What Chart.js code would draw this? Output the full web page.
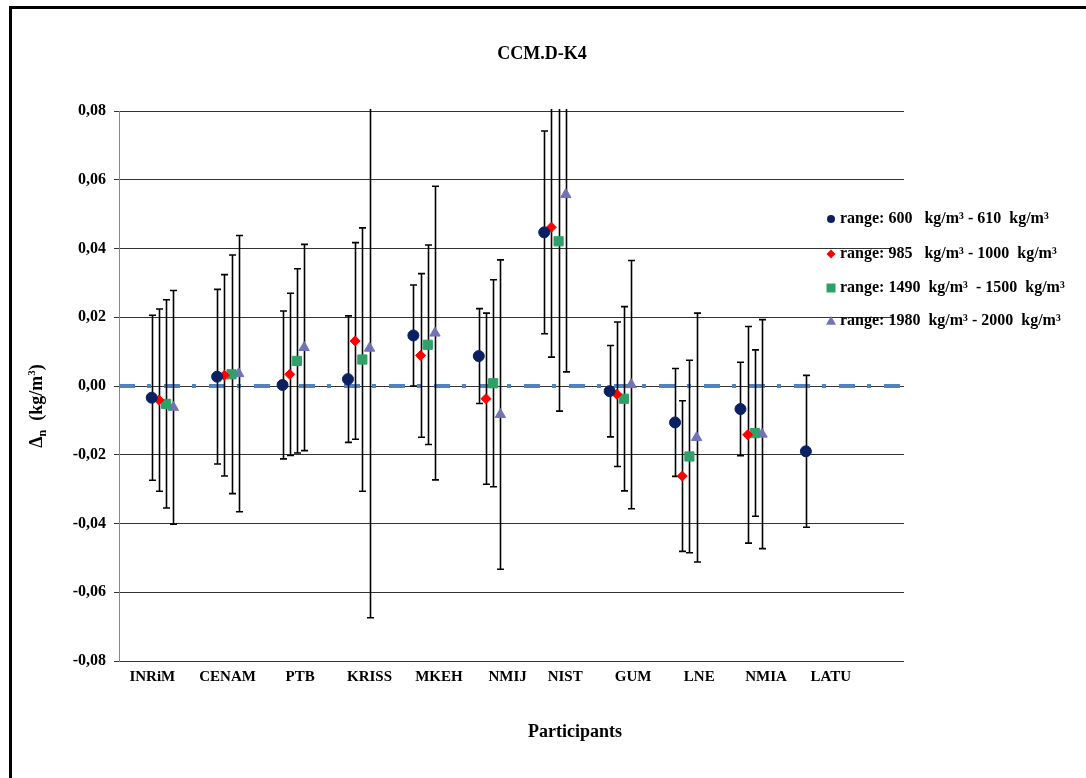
<!DOCTYPE html>
<html><head><meta charset="utf-8">
<script src="https://cdn.jsdelivr.net/npm/chart.js@4.4.1/dist/chart.umd.min.js"></script>
<style>html,body{margin:0;padding:0;background:#fff}canvas{display:block}</style>
</head><body>
<canvas id="c" width="1086" height="778"></canvas>
<script>
// ---------------- data ----------------
const participants = ['INRiM','CENAM','PTB','KRISS','MKEH','NMIJ','NIST','GUM','LNE','NMIA','LATU'];
const yTickValues = [-0.08,-0.06,-0.04,-0.02,0,0.02,0.04,0.06,0.08];
const legendLabels = [
  'range: 600   kg/m\u00B3 - 610  kg/m\u00B3',
  'range: 985   kg/m\u00B3 - 1000  kg/m\u00B3',
  'range: 1490  kg/m\u00B3  - 1500  kg/m\u00B3',
  'range: 1980  kg/m\u00B3 - 2000  kg/m\u00B3'
];
// deviations (kg/m3) and expanded uncertainties (kg/m3)
const range600   = [-0.0034, 0.0027, 0.0003, 0.0020, 0.0147, 0.0087, 0.0447, -0.0015, -0.0106, -0.0067, -0.0190];
const range600U  = [ 0.0240, 0.0254, 0.0215, 0.0184, 0.0147, 0.0138, 0.0295,  0.0133,  0.0157,  0.0136,  0.0221];
const range985   = [-0.0041, 0.0031, 0.0034, 0.0131, 0.0089, -0.0037, 0.0462, -0.0024, -0.0262, -0.0142, null];
const range985U  = [ 0.0265, 0.0293, 0.0236, 0.0286, 0.0238,  0.0249, 0.0378,  0.0210,  0.0219,  0.0315, null];
const range1490  = [-0.0052, 0.0034, 0.0073, 0.0077, 0.0120, 0.0008, 0.0421, -0.0037, -0.0205, -0.0137, null];
const range1490U = [ 0.0303, 0.0347, 0.0268, 0.0383, 0.0290, 0.0301, 0.0494,  0.0268,  0.0280,  0.0242, null];
const range1980  = [-0.0062, 0.0036, 0.0112, 0.0110, 0.0154, -0.0083, 0.0557, 0.0004, -0.0150, -0.0140, null];
const range1980U = [ 0.0340, 0.0402, 0.0300, 0.0784, 0.0427,  0.0450, 0.0516, 0.0361,  0.0362,  0.0333, null];
const referenceValue = 0;

// ---------------- layout / style ----------------
const W = 1086, H = 778;
const plotL = 119, plotR = 904, plotT = 111, plotB = 661;
const xAxisBox = 40;
const labelAnchor = [1.01, 2.16, 3.27, 4.33, 5.39, 6.44, 7.32, 8.36, 9.37, 10.39, 11.38];
const FONT = '"Liberation Serif", "Times New Roman", serif';

const seriesDefs = [
  {values: range600,  unc: range600U,  offset: 0.00, style: 'circle',   radius: 5.5, color: '#0a2060'},
  {values: range985,  unc: range985U,  offset: 0.11, style: 'rectRot',  radius: 5,   color: '#ff0000'},
  {values: range1490, unc: range1490U, offset: 0.22, style: 'rect',     radius: 6.5, color: '#2fa068'},
  {values: range1980, unc: range1980U, offset: 0.33, style: 'triangle', radius: 6,   color: '#7272b6'}
];

const datasets = seriesDefs.map((s, k) => ({
  type: 'scatter',
  label: legendLabels[k],
  data: s.values.map((v, i) => v == null ? null : {x: i + 1 + s.offset, y: v}).filter(p => p),
  pointStyle: s.style,
  pointRadius: s.radius,
  pointBackgroundColor: s.color,
  pointBorderColor: s.color,
  pointBorderWidth: 1,
  order: 0
}));
datasets.push({
  type: 'line',
  label: 'reference',
  data: [{x: 0.5, y: referenceValue}, {x: 12.5, y: referenceValue}],
  borderColor: '#5083c0',
  borderWidth: 4,
  borderDash: [16, 12, 4, 13],
  pointRadius: 0,
  order: 10
});
const refIndex = datasets.length - 1;

// ---------------- plugins ----------------
const frame = {
  id: 'frame',
  beforeDraw(chart) {
    const c = chart.ctx;
    c.save();
    c.fillStyle = '#fff'; c.fillRect(0, 0, W, H);
    c.strokeStyle = '#000'; c.lineWidth = 3;
    c.strokeRect(10.5, 7.5, 2000, 2000);
    c.restore();
  }
};

const errorBars = {
  id: 'errorBars',
  afterDatasetDraw(chart, args) {
    if (args.index !== refIndex) return;
    const {ctx: c, chartArea: a, scales: {x, y}} = chart;
    c.save();
    c.beginPath(); c.rect(a.left, a.top - 2, a.right - a.left, a.bottom - a.top + 4); c.clip();
    c.strokeStyle = '#000'; c.lineWidth = 1.6;
    seriesDefs.forEach(s => {
      s.values.forEach((v, i) => {
        if (v == null) return;
        const px = Math.round(x.getPixelForValue(i + 1 + s.offset)) + 0.5;
        const top = v + s.unc[i], bot = v - s.unc[i];
        const yt = y.getPixelForValue(top), yb = y.getPixelForValue(bot);
        c.beginPath();
        c.moveTo(px, yt); c.lineTo(px, yb);
        if (top <= 0.08) { c.moveTo(px - 3.5, yt); c.lineTo(px + 3.5, yt); }
        if (bot >= -0.08) { c.moveTo(px - 3.5, yb); c.lineTo(px + 3.5, yb); }
        c.stroke();
      });
    });
    c.restore();
  }
};

function drawMarker(c, style, x, y, r, color) {
  c.save();
  c.fillStyle = color;
  c.beginPath();
  if (style === 'circle') { c.arc(x, y, r, 0, Math.PI * 2); }
  else if (style === 'rectRot') { c.moveTo(x, y - r); c.lineTo(x + r, y); c.lineTo(x, y + r); c.lineTo(x - r, y); c.closePath(); }
  else if (style === 'rect') { c.rect(x - r, y - r, 2 * r, 2 * r); }
  else if (style === 'triangle') { c.moveTo(x, y - r); c.lineTo(x + r, y + r * 0.75); c.lineTo(x - r, y + r * 0.75); c.closePath(); }
  c.fill();
  c.restore();
}

const annotations = {
  id: 'annotations',
  afterDraw(chart) {
    const c = chart.ctx;
    c.save();
    c.fillStyle = '#000';
    // title
    c.font = 'bold 18px ' + FONT;
    c.textAlign = 'center'; c.textBaseline = 'middle';
    c.fillText('CCM.D-K4', 542, 54);
    // x axis title
    c.font = 'bold 18px ' + FONT;
    c.fillText('Participants', 575, 732);
    // y axis title  Δn (kg/m3)
    c.save();
    c.translate(36, 406);
    c.rotate(-Math.PI / 2);
    c.textAlign = 'left'; c.textBaseline = 'alphabetic';
    const parts = [
      {t: '\u0394', f: 'bold 18px ', dy: 0},
      {t: 'n', f: 'bold 12px ', dy: 4},
      {t: '  (kg/m', f: 'bold 18px ', dy: 0},
      {t: '3', f: 'bold 11px ', dy: -7},
      {t: ')', f: 'bold 18px ', dy: 0}
    ];
    let tw = 0;
    parts.forEach(p => { c.font = p.f + FONT; tw += c.measureText(p.t).width; });
    let cx = -tw / 2;
    parts.forEach(p => { c.font = p.f + FONT; c.fillText(p.t, cx, 6 + p.dy); cx += c.measureText(p.t).width; });
    c.restore();
    // legend
    const rows = [219, 254, 288, 321];
    rows.forEach((ry, k) => {
      c.fillStyle = '#fff';
      c.fillRect(892, ry - 9, 13, 18);
      const s = seriesDefs[k];
      const mr = {circle: 4, rectRot: 4.5, rect: 4.5, triangle: 5}[s.style];
      drawMarker(c, s.style, 831, ry, mr, s.color);
      c.fillStyle = '#000';
      c.font = 'bold 16px ' + FONT;
      c.textAlign = 'left'; c.textBaseline = 'middle';
      c.fillText(legendLabels[k], 840, ry);
    });
    c.restore();
  }
};

// ---------------- chart ----------------
new Chart(document.getElementById('c').getContext('2d'), {
  type: 'scatter',
  data: {datasets},
  options: {
    responsive: false,
    animation: false,
    devicePixelRatio: 1,
    layout: {padding: {left: 0, top: plotT, right: W - plotR, bottom: H - plotB - xAxisBox}},
    plugins: {legend: {display: false}, tooltip: {enabled: false}, title: {display: false}},
    scales: {
      x: {
        type: 'linear', min: 0.5, max: 12.5,
        afterFit: s => { s.height = xAxisBox; },
        afterBuildTicks: s => { s.ticks = labelAnchor.map(v => ({value: v})); },
        ticks: {
          autoSkip: false, maxRotation: 0, minRotation: 0, padding: 7,
          callback: (v, i) => participants[i],
          color: '#000', font: {family: FONT, size: 15, weight: 'bold'}
        },
        grid: {display: false, drawTicks: false},
        border: {display: false}
      },
      y: {
        min: -0.08, max: 0.08,
        afterFit: s => { s.width = plotL; },
        afterBuildTicks: s => { s.ticks = yTickValues.map(v => ({value: v})); },
        ticks: {
          padding: 8,
          callback: v => v.toFixed(2).replace('.', ','),
          color: '#000', font: {family: FONT, size: 16, weight: 'bold'}
        },
        grid: {color: '#333', lineWidth: 1, tickLength: 5, tickColor: '#333'},
        border: {color: '#888', width: 1}
      }
    }
  },
  plugins: [frame, errorBars, annotations]
});
</script>
</body></html>
